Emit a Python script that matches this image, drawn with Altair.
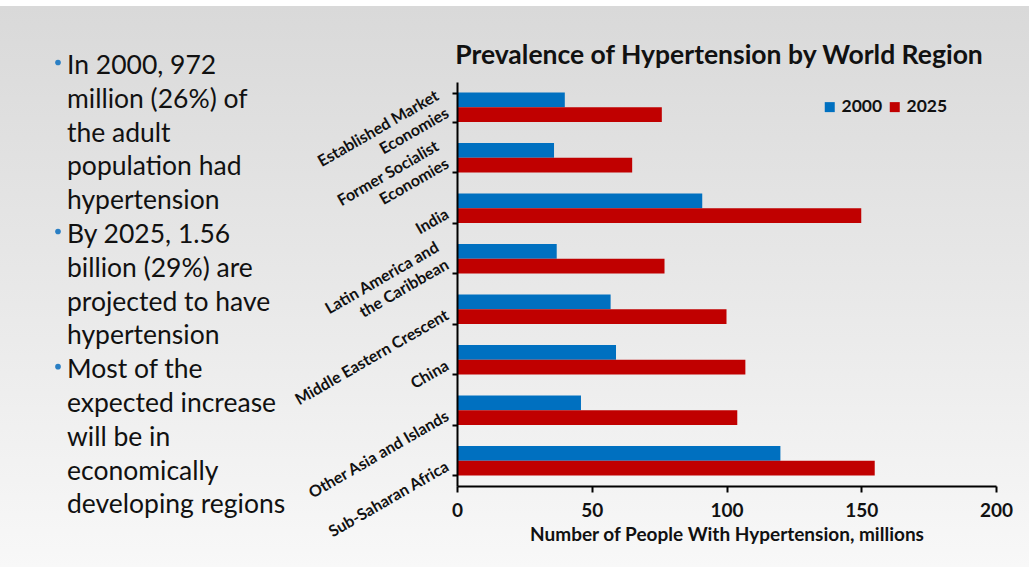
import altair as alt
import pandas as pd

# Regions (top to bottom); "|" marks a line break in the axis label
regions = [
    "Established Market|Economies",
    "Former Socialist|Economies",
    "India",
    "Latin America and|the Caribbean",
    "Middle Eastern Crescent",
    "China",
    "Other Asia and Islands",
    "Sub-Saharan Africa",
]
values_2000 = [40, 36, 91, 37, 57, 59, 46, 120]
values_2025 = [76, 65, 150, 77, 100, 107, 104, 155]
years = ["2000", "2025"]
year_colors = ["#0070C0", "#C00000"]

x_ticks = [0, 50, 100, 150, 200]

title_text = "Prevalence of Hypertension by World Region"
x_title = "Number of People With Hypertension, millions"

# Bullet-point text shown beside the chart
bullet_lines = [
    "In 2000, 972",
    "million (26%) of",
    "the adult",
    "population had",
    "hypertension",
    "By 2025, 1.56",
    "billion (29%) are",
    "projected to have",
    "hypertension",
    "Most of the",
    "expected increase",
    "will be in",
    "economically",
    "developing regions",
]
bullet_starts = [0, 5, 9]

FONT = "Lato"
W, H = 539, 404
PAD = {"left": 457, "top": 82, "right": 33, "bottom": 81}

rows = []
for r, a, b in zip(regions, values_2000, values_2025):
    rows.append({"region": r, "year": "2000", "value": a})
    rows.append({"region": r, "year": "2025", "value": b})
bars_df = pd.DataFrame(rows)

line_gap = 33.8
first_baseline = -8
text_df = pd.DataFrame({
    "line": bullet_lines,
    "py": [first_baseline + i * line_gap for i in range(len(bullet_lines))],
})
dot_df = pd.DataFrame({"py": [first_baseline - 11.5 + i * line_gap for i in bullet_starts]})

# Soft grey backdrop, darker at the top
background = alt.Chart(pd.DataFrame({"k": [0]})).mark_rect(
    color=alt.Gradient(
        gradient="linear",
        stops=[
            alt.GradientStop(color="#d9d9d9", offset=0),
            alt.GradientStop(color="#e8e8e8", offset=0.5),
            alt.GradientStop(color="#f8f8f8", offset=1),
        ],
        x1=0, x2=0, y1=0, y2=1,
    )
).encode(
    x=alt.value(-PAD["left"]), x2=alt.value(W + PAD["right"]),
    y=alt.value(-PAD["top"] + 6), y2=alt.value(H + PAD["bottom"]),
)

# Every region label is drawn as two lines (single-line names get an empty
# first line) so the last line always ends beside the axis.
label_expr = (
    "indexof(datum.label, '|') >= 0 ? split(datum.label, '|') : ['', datum.label]"
)

bars = alt.Chart(bars_df).mark_bar().encode(
    x=alt.X(
        "value:Q",
        scale=alt.Scale(domain=[0, 200], nice=False),
        axis=alt.Axis(
            values=x_ticks, title=x_title, grid=False, zindex=2,
            labelFontSize=19, labelFontWeight="bold", labelPadding=9,
            labelFlush=False,
            titleFontSize=19, titleFontWeight="bold", titlePadding=5,
            tickSize=6,
        ),
    ),
    y=alt.Y(
        "region:N",
        sort=regions,
        scale=alt.Scale(paddingInner=0.42, paddingOuter=0.21),
        axis=alt.Axis(
            title=None, tickBand="extent", tickSize=5, zindex=2,
            labelExpr=label_expr,
            labelAngle=330, labelAlign="right", labelBaseline="middle",
            labelFontSize=16, labelFontWeight="bold",
            labelPadding=15, labelOffset=-13,
            labelLineHeight=20, labelLimit=300,
        ),
    ),
    yOffset=alt.YOffset("year:N", sort=years),
    color=alt.Color(
        "year:N",
        scale=alt.Scale(domain=years, range=year_colors),
        legend=alt.Legend(
            title=None, orient="none", direction="horizontal",
            legendX=364, legendY=16,
            symbolType="square", symbolSize=100, symbolStrokeWidth=0,
            labelFontSize=17.5, labelFontWeight="bold", labelOffset=3,
            columnPadding=3,
        ),
    ),
)

chart_title = alt.Chart(pd.DataFrame({"t": [title_text]})).mark_text(
    font=FONT, fontSize=26.5, fontWeight="bold", align="center",
    baseline="alphabetic", color="#111111",
).encode(text="t:N", x=alt.value(262), y=alt.value(-18))

notes = alt.Chart(text_df).mark_text(
    font=FONT, fontSize=26.5, align="left", baseline="alphabetic", color="#111111",
).encode(
    text="line:N",
    x=alt.value(-390),
    y=alt.Y("py:Q", scale=None, axis=None),
)

dots = alt.Chart(dot_df).mark_circle(size=32, color="#2a7fc4", opacity=1).encode(
    x=alt.value(-399),
    y=alt.Y("py:Q", scale=None, axis=None),
)

chart = (
    alt.layer(background, bars, chart_title, notes, dots)
    .resolve_scale(y="independent")
    .properties(
        width=W, height=H,
        autosize=alt.AutoSizeParams(type="none"),
        padding=PAD,
        background="#ffffff",
    )
    .configure_view(stroke=None)
    .configure_axis(
        labelFont=FONT, titleFont=FONT,
        labelColor="#111111", titleColor="#111111",
        domainColor="#000000", domainWidth=2,
        tickColor="#000000", tickWidth=2,
    )
    .configure_legend(labelFont=FONT, labelColor="#111111")
)

chart.save("out.html", embed_options={"renderer": "svg", "actions": False})
